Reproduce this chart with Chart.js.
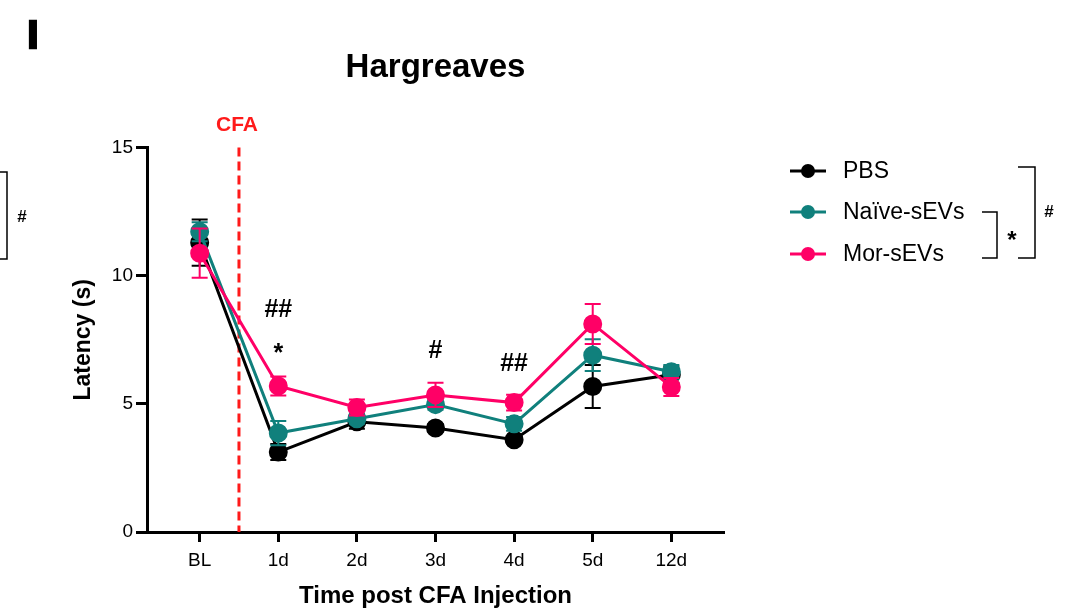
<!DOCTYPE html>
<html>
<head>
<meta charset="utf-8">
<script src="https://cdn.jsdelivr.net/npm/chart.js@4.4.1/dist/chart.umd.min.js"></script>
<style>
  html, body { margin: 0; padding: 0; background: #fff; }
  #wrap { width: 1073px; height: 615px; position: relative; }
</style>
</head>
<body>
<div id="wrap"><canvas id="hargreaves"></canvas></div>
<script>
// time points and tick labels
var timeLabels = ['BL', '1d', '2d', '3d', '4d', '5d', '12d'];
var yTicks = [0, 5, 10, 15];

// mean latency (s) per group
var pbsMean   = [11.29, 3.12, 4.30, 4.06, 3.60, 5.68, 6.14];
var naiveMean = [11.72, 3.86, 4.42, 4.97, 4.22, 6.90, 6.25];
var morMean   = [10.88, 5.70, 4.86, 5.35, 5.05, 8.12, 5.66];

// SEM per group
var pbsErr   = [0.90, 0.31, 0.27, 0.15, 0.15, 0.84, 0.32];
var naiveErr = [0.37, 0.47, 0.20, 0.20, 0.27, 0.62, 0.27];
var morErr   = [0.96, 0.37, 0.31, 0.47, 0.31, 0.78, 0.35];

// significance marks: [time index, latency level, text]
var sigMarks = [
  [1, 8.67, '##'],
  [1, 6.95, '*'],
  [3, 7.05, '#'],
  [4, 6.55, '##']
];

var cfaAt = 0.5;

var BLACK = '#000000';
var TEAL = '#10807c';
var PINK = '#ff0066';
var FONT = "'Liberation Sans', Arial, sans-serif";

Chart.defaults.font.family = FONT;
Chart.defaults.color = '#000';

function points(arr) {
  return arr.map(function (v, i) { return { x: i, y: v }; });
}

function series(label, data, err, color, order) {
  return {
    label: label,
    data: points(data),
    errors: err,
    borderColor: color,
    backgroundColor: color,
    pointBackgroundColor: color,
    pointBorderColor: color,
    pointRadius: 8,
    pointHoverRadius: 8,
    borderWidth: 3,
    tension: 0,
    order: order
  };
}

// SEM whiskers, drawn with each dataset so the stacking follows the series
var errorBars = {
  id: 'errorBars',
  beforeDatasetDraw: function (chart, args) {
    var ds = chart.data.datasets[args.index];
    var y = chart.scales.y;
    var ctx = chart.ctx;
    ctx.save();
    ctx.strokeStyle = ds.borderColor;
    ctx.lineWidth = 2;
    args.meta.data.forEach(function (pt, i) {
      var v = ds.data[i].y, e = ds.errors[i];
      var top = y.getPixelForValue(v + e), bot = y.getPixelForValue(v - e);
      ctx.beginPath();
      ctx.moveTo(pt.x, top); ctx.lineTo(pt.x, bot);
      ctx.moveTo(pt.x - 8, top); ctx.lineTo(pt.x + 8, top);
      ctx.moveTo(pt.x - 8, bot); ctx.lineTo(pt.x + 8, bot);
      ctx.stroke();
    });
    ctx.restore();
  }
};

// CFA injection marker
var cfaLine = {
  id: 'cfaLine',
  beforeDatasetsDraw: function (chart) {
    var x = chart.scales.x.getPixelForValue(cfaAt);
    var y = chart.scales.y;
    var ctx = chart.ctx;
    ctx.save();
    ctx.strokeStyle = '#ff1a1a';
    ctx.lineWidth = 3;
    ctx.setLineDash([9, 5]);
    ctx.beginPath();
    ctx.moveTo(x, y.getPixelForValue(15));
    ctx.lineTo(x, y.getPixelForValue(0));
    ctx.stroke();
    ctx.setLineDash([]);
    ctx.fillStyle = '#ff1a1a';
    ctx.font = 'bold 21px ' + FONT;
    ctx.textAlign = 'center';
    ctx.textBaseline = 'middle';
    ctx.fillText('CFA', x - 2, y.getPixelForValue(15) - 22);
    ctx.restore();
  }
};

// significance symbols, legend and comparison brackets
var extras = {
  id: 'extras',
  afterDraw: function (chart) {
    var ctx = chart.ctx;
    var xs = chart.scales.x, ys = chart.scales.y;
    ctx.save();
    ctx.fillStyle = '#000';
    ctx.textAlign = 'center';
    ctx.textBaseline = 'middle';
    ctx.font = 'bold 25px ' + FONT;
    sigMarks.forEach(function (m) {
      ctx.fillText(m[2], xs.getPixelForValue(m[0]), ys.getPixelForValue(m[1]));
    });

    // panel letter, stroked a little for a heavier stem
    ctx.font = 'bold 39px ' + FONT;
    ctx.strokeStyle = '#000';
    ctx.lineWidth = 2.5;
    ctx.fillText('I', 33, 37);
    ctx.strokeText('I', 33, 37);

    // legend
    var rows = [['PBS', BLACK, 171], ['Naïve-sEVs', TEAL, 212], ['Mor-sEVs', PINK, 254]];
    rows.forEach(function (r) {
      ctx.strokeStyle = r[1];
      ctx.fillStyle = r[1];
      ctx.lineWidth = 3;
      ctx.beginPath();
      ctx.moveTo(790, r[2]); ctx.lineTo(826, r[2]);
      ctx.stroke();
      ctx.beginPath();
      ctx.arc(808, r[2], 7, 0, Math.PI * 2);
      ctx.fill();
      ctx.fillStyle = '#000';
      ctx.font = '23px ' + FONT;
      ctx.textAlign = 'left';
      ctx.fillText(r[0], 843, r[2] + 1);
    });

    // brackets
    ctx.strokeStyle = '#000';
    ctx.lineWidth = 1.5;
    ctx.beginPath();
    ctx.moveTo(982, 212); ctx.lineTo(997, 212); ctx.lineTo(997, 258); ctx.lineTo(982, 258);
    ctx.moveTo(1018, 167); ctx.lineTo(1035, 167); ctx.lineTo(1035, 258); ctx.lineTo(1018, 258);
    ctx.moveTo(0, 172); ctx.lineTo(7, 172); ctx.lineTo(7, 259); ctx.lineTo(0, 259);
    ctx.stroke();
    ctx.fillStyle = '#000';
    ctx.textAlign = 'center';
    ctx.font = 'bold 24px ' + FONT;
    ctx.fillText('*', 1012, 241);
    ctx.font = 'bold 17px ' + FONT;
    ctx.fillText('#', 1049, 212);
    ctx.fillText('#', 22, 217);
    ctx.restore();
  }
};

var ctx = document.getElementById('hargreaves').getContext('2d');
new Chart(ctx, {
  type: 'line',
  data: {
    datasets: [
      series('PBS', pbsMean, pbsErr, BLACK, 3),
      series('Naïve-sEVs', naiveMean, naiveErr, TEAL, 2),
      series('Mor-sEVs', morMean, morErr, PINK, 1)
    ]
  },
  options: {
    responsive: true,
    maintainAspectRatio: false,
    animation: false,
    events: [],
    layout: { padding: { left: 0, right: 349, top: 0, bottom: 0 } },
    plugins: {
      legend: { display: false },
      tooltip: { enabled: false },
      title: {
        display: true,
        text: 'Hargreaves',
        fullSize: false,
        color: '#000',
        font: { size: 33, weight: 'bold' },
        padding: { top: 48, bottom: 60 }
      }
    },
    scales: {
      x: {
        type: 'linear',
        min: -0.67,
        max: 6.67,
        afterBuildTicks: function (scale) {
          scale.ticks = timeLabels.map(function (_, i) { return { value: i }; });
        },
        afterFit: function (scale) { scale.height = 83; },
        ticks: {
          color: '#000',
          font: { size: 19 },
          padding: 7,
          maxRotation: 0,
          callback: function (v) { return timeLabels[v]; }
        },
        grid: { drawOnChartArea: false, color: '#000', tickLength: 10, tickWidth: 3 },
        border: { color: '#000', width: 3 },
        title: {
          display: true,
          text: 'Time post CFA Injection',
          color: '#000',
          font: { size: 24, weight: 'bold' },
          padding: { top: 0, bottom: 4 }
        }
      },
      y: {
        min: 0,
        max: 15,
        afterBuildTicks: function (scale) {
          scale.ticks = yTicks.map(function (v) { return { value: v }; });
        },
        afterFit: function (scale) { scale.width = 147; },
        ticks: { color: '#000', font: { size: 19 }, padding: 3 },
        grid: { drawOnChartArea: false, color: '#000', tickLength: 11, tickWidth: 3 },
        border: { color: '#000', width: 3 },
        title: {
          display: true,
          text: 'Latency (s)',
          color: '#000',
          font: { size: 23, weight: 'bold' },
          padding: { top: 70, bottom: 0 }
        }
      }
    }
  },
  plugins: [cfaLine, errorBars, extras]
});
</script>
</body>
</html>
